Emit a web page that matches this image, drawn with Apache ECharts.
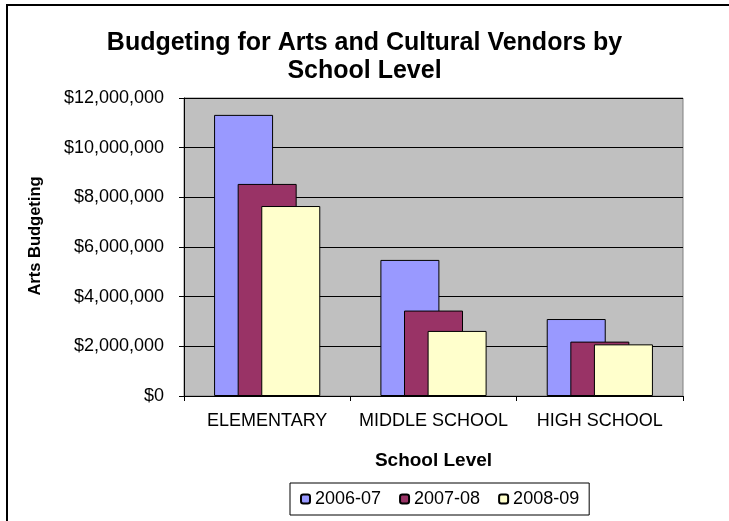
<!DOCTYPE html>
<html>
<head>
<meta charset="utf-8">
<script src="https://cdn.jsdelivr.net/npm/echarts@6/dist/echarts.min.js"></script>
<style>
html,body{margin:0;padding:0;background:#fff;}
#chart{width:729px;height:521px;}
</style>
</head>
<body>
<div id="chart"></div>
<script>
const categories = ['ELEMENTARY', 'MIDDLE SCHOOL', 'HIGH SCHOOL'];
const seriesNames = ['2006-07', '2007-08', '2008-09'];
const values2006 = [11320000, 5480000, 3100000];
const values2007 = [8540000, 3440000, 2190000];
const values2008 = [7650000, 2620000, 2080000];
const yTicks = { min: 0, max: 12000000, interval: 2000000 };
const colors = ['#9999FF', '#993366', '#FFFFCC'];

const font = '"Liberation Sans", Arial, sans-serif';
const chart = echarts.init(document.getElementById('chart'));
const allValues = [values2006, values2007, values2008];

chart.setOption({
  animation: false,
  backgroundColor: '#ffffff',
  title: {
    text: 'Budgeting for Arts and Cultural Vendors by\nSchool Level',
    left: 'center',
    top: 29,
    padding: [0, 0, 0, 29],
    textStyle: { fontFamily: font, fontSize: 25, fontWeight: 'bold', color: '#000', lineHeight: 28 }
  },
  grid: {
    left: 184, right: 46, top: 98, bottom: 125,
    show: true, backgroundColor: '#C0C0C0', borderColor: '#808080', borderWidth: 1
  },
  legend: {
    data: seriesNames,
    left: 290, top: 483,
    itemWidth: 9, itemHeight: 9, itemGap: 18,
    padding: [7, 10, 7, 10],
    borderColor: '#000', borderWidth: 1,
    textStyle: { fontFamily: font, fontSize: 18, color: '#000' }
  },
  xAxis: {
    type: 'category',
    data: categories,
    name: 'School Level',
    nameLocation: 'middle',
    nameGap: 55,
    nameTextStyle: { fontFamily: font, fontSize: 19, fontWeight: 'bold', color: '#000' },
    axisLine: { lineStyle: { color: '#000', width: 1 } },
    axisTick: { show: true, length: 5, lineStyle: { color: '#000' } },
    axisLabel: { fontFamily: font, fontSize: 18, color: '#000', margin: 16, interval: 0 },
    splitLine: { show: false }
  },
  yAxis: {
    type: 'value',
    min: yTicks.min, max: yTicks.max, interval: yTicks.interval,
    axisLine: { show: true, lineStyle: { color: '#000', width: 1 } },
    axisTick: { show: true, length: 5, lineStyle: { color: '#000' } },
    axisLabel: {
      fontFamily: font, fontSize: 18, color: '#000', margin: 20,
      formatter: v => '$' + v.toLocaleString('en-US')
    },
    splitLine: { show: true, lineStyle: { color: '#000', width: 1 } }
  },
  series: seriesNames.map((name, i) => ({
    name: name,
    type: 'bar',
    data: allValues[i],
    barWidth: 59,
    barGap: '-60%',
    itemStyle: { color: colors[i], borderColor: '#000', borderWidth: 1 }
  })),
  graphic: [{
    type: 'rect',
    shape: { x: 7, y: 5, width: 760, height: 560 },
    style: { fill: null, stroke: '#000', lineWidth: 2 },
    silent: true
  }, {
    type: 'text',
    x: 35, y: 236,
    rotation: Math.PI / 2,
    style: {
      text: 'Arts Budgeting',
      font: 'bold 16.5px "Liberation Sans", Arial, sans-serif',
      fill: '#000',
      textAlign: 'center',
      textVerticalAlign: 'middle'
    },
    silent: true
  }]
});
</script>
</body>
</html>
